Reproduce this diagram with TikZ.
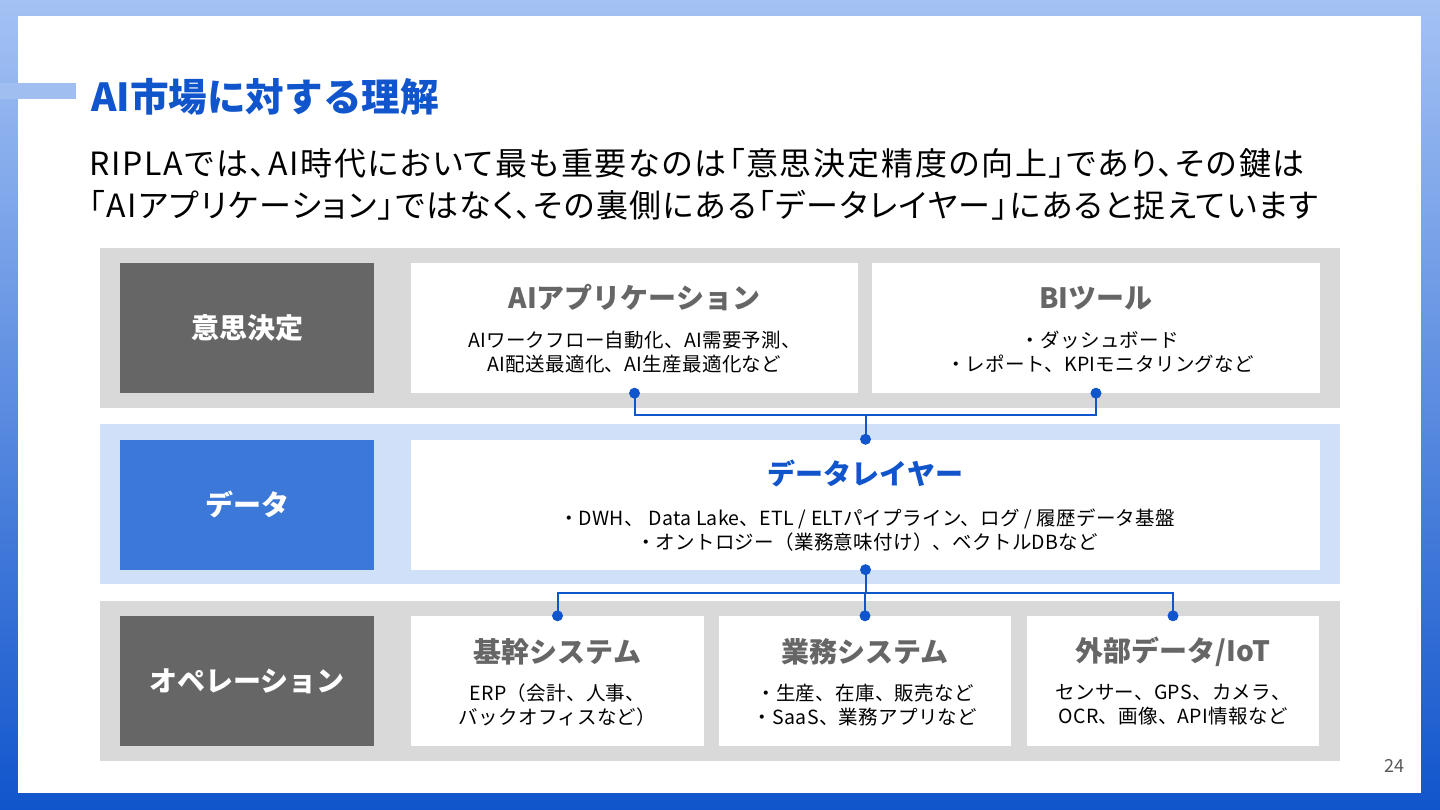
\documentclass[tikz,border=0pt]{standalone}
\usepackage{fontspec}
\setmainfont{Noto Sans CJK JP}
\newfontfamily\pfont[RawFeature=+palt,LetterSpace=4.5]{Noto Sans CJK JP}
\newfontfamily\pfontw[RawFeature=+palt,LetterSpace=5.6]{Noto Sans CJK JP}
\newfontfamily\bfont[LetterSpace=1.5]{Noto Sans CJK JP}
\definecolor{bgtop}{RGB}{164,194,244}
\definecolor{bgbot}{RGB}{17,85,204}
\definecolor{accent}{RGB}{160,190,240}
\definecolor{tblue}{RGB}{17,85,204}
\definecolor{rowgray}{RGB}{217,217,217}
\definecolor{rowblue}{RGB}{207,224,248}
\definecolor{labdark}{RGB}{102,102,102}
\definecolor{labblue}{RGB}{60,120,216}
\definecolor{ttlgray}{RGB}{102,102,102}
\definecolor{pggray}{RGB}{89,89,89}
\tikzset{
  rowbox/.style={rectangle, inner sep=0, minimum width=1240, minimum height=160},
  labelbox/.style={rectangle, inner sep=0, minimum width=254, minimum height=130, text=white, font=\bfseries\fontsize{28}{32}\selectfont},
  card/.style={rectangle, fill=white, inner sep=0, minimum height=130},
  cardtitle/.style={inner sep=0, text=ttlgray, font=\bfseries\fontsize{28}{32}\selectfont},
  cardbody/.style={inner sep=0, align=center, text=black, font=\bfont\fontsize{19.5}{24}\selectfont},
  conn/.style={draw=tblue, line width=2pt},
  dot/.style={fill=tblue}
}
\begin{document}
\begin{tikzpicture}[x=1pt,y=-1pt]
\useasboundingbox (0,0) rectangle (1440,810);
\shade[top color=bgtop, bottom color=bgbot] (0,0) rectangle (1440,810);
\fill[white] (18,16) rectangle (1421,793);
\fill[accent] (0,83) rectangle (76,99);

\node[anchor=west, inner sep=0, text=tblue, font=\bfseries\fontsize{38.6}{44}\selectfont] (title) at (91,97) {AI市場に対する理解};
\node[anchor=west, inner sep=0, text=black, font=\pfontw\fontsize{32}{36}\selectfont] (sub1) at (89,163) {RIPLAでは、AI時代において最も重要なのは「意思決定精度の向上」であり、その鍵は};
\node[anchor=west, inner sep=0, text=black, font=\pfont\fontsize{32}{36}\selectfont] (sub2) at (89,205) {「AIアプリケーション」ではなく、その裏側にある「データレイヤー」にあると捉えています};

% rows
\node[rowbox, fill=rowgray] (r1) at (720,328) {};
\node[rowbox, fill=rowblue] (r2) at (720,504) {};
\node[rowbox, fill=rowgray] (r3) at (720,681) {};

% labels
\node[labelbox, fill=labdark] (l1) at (247,328) {意思決定};
\node[labelbox, fill=labblue] (l2) at (247,504.5) {データ};
\node[labelbox, fill=labdark] (l3) at (247,681) {オペレーション};

% cards
\node[card, minimum width=447] (aiapp) at (634.5,328) {};
\node[card, minimum width=448] (bi) at (1096,328) {};
\node[card, minimum width=909] (data) at (865.5,504.5) {};
\node[card, minimum width=293] (kikan) at (557.5,681) {};
\node[card, minimum width=292] (gyomu) at (865,681) {};
\node[card, minimum width=292] (gaibu) at (1173,681) {};

% card texts
\node[cardtitle] (aiappT) at (634.5,298) {AIアプリケーション};
\node[cardbody] (aiappB) at (634.5,352) {AIワークフロー自動化、AI需要予測、\\AI配送最適化、AI生産最適化など};
\node[cardtitle] (biT) at (1096,298) {BIツール};
\node[cardbody] (biB) at (1100,352) {・ダッシュボード\\・レポート、KPIモニタリングなど};
\node[cardtitle, text=tblue] (dataT) at (865.5,473) {データレイヤー};
\node[cardbody] (dataB) at (867,530) {・DWH、 Data Lake、ETL / ELTパイプライン、ログ / 履歴データ基盤\\・オントロジー（業務意味付け）、ベクトルDBなど};
\node[cardtitle] (kikanT) at (557.5,652) {基幹システム};
\node[cardbody] (kikanB) at (557.5,705) {ERP（会計、人事、\\バックオフィスなど）};
\node[cardtitle] (gyomuT) at (865,652) {業務システム};
\node[cardbody] (gyomuB) at (865,705) {・生産、在庫、販売など\\・SaaS、業務アプリなど};
\node[cardtitle] (gaibuT) at (1173,652) {外部データ/IoT};
\node[cardbody] (gaibuB) at (1173,705) {センサー、GPS、カメラ、\\OCR、画像、API情報など};

% connectors
\coordinate (j1) at (865.5,415);
\coordinate (j2) at (865.5,593);
\draw[conn] (aiapp.south) -- (aiapp.south |- j1) -- (bi.south |- j1) -- (bi.south);
\draw[conn] (j1) -- (data.north);
\draw[conn] (data.south) -- (j2);
\draw[conn] (kikan.north) -- (kikan.north |- j2) -- (gaibu.north |- j2) -- (gaibu.north);
\draw[conn] (gyomu.north |- j2) -- (gyomu.north);
\foreach \p in {aiapp.south, bi.south, data.north, data.south, kikan.north, gyomu.north, gaibu.north}
  \fill[dot] (\p) circle (5.5);

\node[inner sep=0, text=pggray, font=\fontsize{18}{20}\selectfont] (pg) at (1394,766) {24};
\end{tikzpicture}
\end{document}
